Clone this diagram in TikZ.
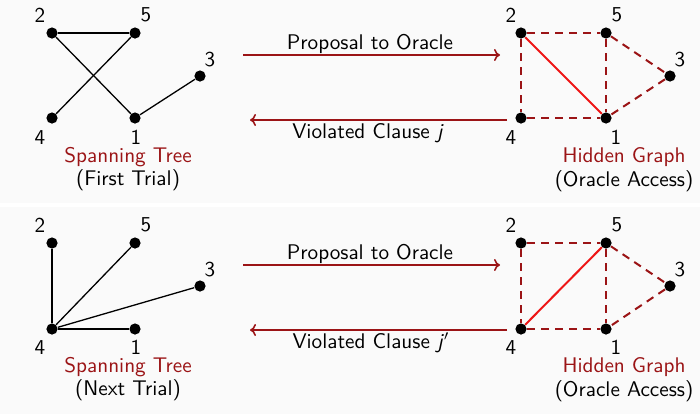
\documentclass[tikz,border=0pt]{standalone}
\usetikzlibrary{arrows.meta}
\definecolor{dred}{RGB}{155,20,22}
\definecolor{bred}{RGB}{238,22,22}
\definecolor{bg}{RGB}{250,250,250}
\newcommand{\picfont}{\sffamily\fontsize{10.6}{12.7}\selectfont}
\begin{document}
\begin{tikzpicture}[x=0.5pt,y=-0.5pt,font=\picfont,
  vtx/.style={circle,fill=black,inner sep=0pt,minimum size=5.6pt},
  vlab/.style={inner sep=0pt},
  tree/.style={line width=0.65pt,black},
  hid/.style={line width=1pt,dred,dash pattern=on 4pt off 3pt},
  hit/.style={line width=1pt,bred},
  msg/.style={line width=0.8pt,dred,-{To[length=3pt,width=6pt]}},
  captxt/.style={inner sep=0pt,align=center}]
% background panels
\fill[bg] (0,0) rectangle (700,414);
\fill[white] (0,203) rectangle (700,207);
\useasboundingbox (0,0) rectangle (700,414);

% ---------- first round ----------
\begin{scope}
  \node[vtx] (a2) at (52,33) {};
  \node[vtx] (a5) at (135,33) {};
  \node[vtx] (a3) at (200,76) {};
  \node[vtx] (a4) at (52,118) {};
  \node[vtx] (a1) at (135,118) {};
  \node[vlab] (la2) at (40,15) {2};
  \node[vlab] (la5) at (146,15) {5};
  \node[vlab] (la3) at (210,60) {3};
  \node[vlab] (la4) at (40,138) {4};
  \node[vlab] (la1) at (136,137) {1};
  \draw[tree] (a2) -- (a5);
  \draw[tree] (a2) -- (a1);
  \draw[tree] (a5) -- (a4);
  \draw[tree] (a1) -- (a3);
  \node[captxt,text=dred] (ta) at (128,157) {Spanning Tree};
  \node[captxt] (tb) at (128,180) {(First Trial)};

  \node[vtx] (b2) at (521,33) {};
  \node[vtx] (b5) at (606,33) {};
  \node[vtx] (b3) at (670,76) {};
  \node[vtx] (b4) at (521,118) {};
  \node[vtx] (b1) at (606,118) {};
  \node[vlab] (lb2) at (511,15) {2};
  \node[vlab] (lb5) at (617,15) {5};
  \node[vlab] (lb3) at (680,60) {3};
  \node[vlab] (lb4) at (511,138) {4};
  \node[vlab] (lb1) at (616,137) {1};
  \draw[hid] (b2) -- (b5);
  \draw[hid] (b2) -- (b4);
  \draw[hid] (b4) -- (b1);
  \draw[hid] (b5) -- (b1);
  \draw[hid] (b5) -- (b3);
  \draw[hid] (b3) -- (b1);
  \draw[hit] (b2) -- (b1);
  \node[captxt,text=dred] (hg) at (624,157) {Hidden Graph};
  \node[captxt] (oa) at (624,181) {(Oracle Access)};

  \coordinate (p0) at (243,55);
  \coordinate (p1) at (500,55);
  \coordinate (v0) at (507,120);
  \coordinate (v1) at (250,120);
  \draw[msg] (p0) -- (p1);
  \draw[msg] (v0) -- (v1);
  \node[captxt] (pl) at (370,44) {Proposal to Oracle};
  \node[captxt] (vl) at (368,133) {Violated Clause \textsl{j}};
\end{scope}

% ---------- next round ----------
\begin{scope}
  \node[vtx] (c2) at (52,243) {};
  \node[vtx] (c5) at (135,243) {};
  \node[vtx] (c3) at (200,286) {};
  \node[vtx] (c4) at (52,329) {};
  \node[vtx] (c1) at (135,329) {};
  \node[vlab] (lc2) at (40,225) {2};
  \node[vlab] (lc5) at (146,225) {5};
  \node[vlab] (lc3) at (210,270) {3};
  \node[vlab] (lc4) at (40,348) {4};
  \node[vlab] (lc1) at (136,347) {1};
  \draw[tree] (c4) -- (c2);
  \draw[tree] (c4) -- (c5);
  \draw[tree] (c4) -- (c3);
  \draw[tree] (c4) -- (c1);
  \node[captxt,text=dred] (tc) at (128,367) {Spanning Tree};
  \node[captxt] (td) at (128,390) {(Next Trial)};

  \node[vtx] (d2) at (521,243) {};
  \node[vtx] (d5) at (606,243) {};
  \node[vtx] (d3) at (670,286) {};
  \node[vtx] (d4) at (521,329) {};
  \node[vtx] (d1) at (606,329) {};
  \node[vlab] (ld2) at (511,225) {2};
  \node[vlab] (ld5) at (617,225) {5};
  \node[vlab] (ld3) at (680,270) {3};
  \node[vlab] (ld4) at (511,348) {4};
  \node[vlab] (ld1) at (616,347) {1};
  \draw[hid] (d2) -- (d5);
  \draw[hid] (d2) -- (d4);
  \draw[hid] (d4) -- (d1);
  \draw[hid] (d5) -- (d1);
  \draw[hid] (d5) -- (d3);
  \draw[hid] (d3) -- (d1);
  \draw[hit] (d4) -- (d5);
  \node[captxt,text=dred] (hg2) at (624,367) {Hidden Graph};
  \node[captxt] (oa2) at (624,391) {(Oracle Access)};

  \coordinate (q0) at (243,265);
  \coordinate (q1) at (500,265);
  \coordinate (w0) at (507,330);
  \coordinate (w1) at (250,330);
  \draw[msg] (q0) -- (q1);
  \draw[msg] (w0) -- (w1);
  \node[captxt] (ql) at (370,254) {Proposal to Oracle};
  \node[captxt] (wl) at (371,343) {Violated Clause \textsl{j}$'$};
\end{scope}
\end{tikzpicture}
\end{document}
